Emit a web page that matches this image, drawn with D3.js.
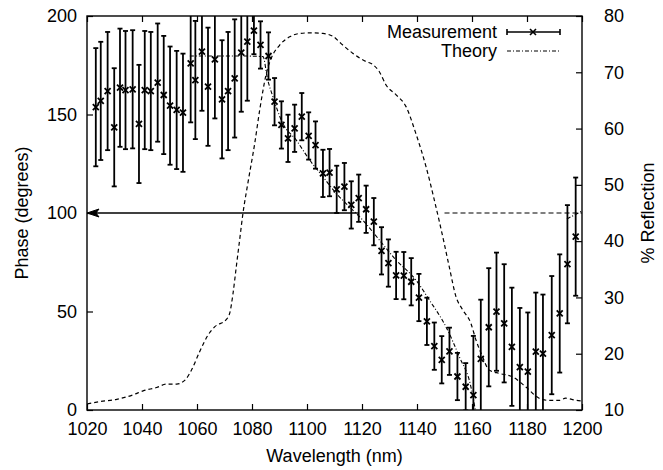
<!DOCTYPE html>
<html>
<head>
<meta charset="utf-8">
<script src="https://d3js.org/d3.v7.min.js"></script>
<style>
  body { margin:0; background:#fff; }
  svg text { font-family:"Liberation Sans", Arial, Helvetica, sans-serif; font-size:18px; fill:#000; }
</style>
</head>
<body>
<svg id="chart" width="663" height="470"></svg>
<script>
// measured phase (degrees) with error bars
var measWl = [1023.2,1025.0,1027.5,1029.9,1032.0,1034.0,1036.6,1038.9,1041.0,1043.2,1045.7,1047.9,1050.2,1052.6,1054.9,1057.7,1059.4,1061.8,1064.0,1066.5,1069.1,1071.3,1073.7,1076.1,1078.3,
	1080.7,1083.1,1086.0,1088.2,1090.7,1093.1,1095.5,1098.1,1100.6,1103.1,1105.8,1108.2,1110.8,1113.6,1116.1,1118.8,1121.5,1124.3,1127.1,1129.6,1132.4,1135.2,1137.9,1140.7,1143.6,1146.3,1149.0,1151.8,1154.7,1157.7,
	1160.5,1163.2,1166.1,1168.9,1171.7,1174.5,1177.4,1180.3,1183.2,1185.8,1189.0,1191.9,1194.7,1197.7];
var measPhase = [153.7,156.9,161.9,143.5,163.6,162.4,162.8,145.2,162.4,161.9,166.2,159.9,154.5,152.3,150.9,176.0,167.5,181.9,164.1,178.0,157.7,161.9,168.3,181.4,187.0,
	192.6,185.3,179.7,156.5,144.7,137.9,143.0,148.9,139.1,134.5,120.1,120.5,112.0,113.4,104.1,107.5,101.9,95.6,80.8,74.6,68.3,68.2,65.1,57.1,45.0,32.4,25.5,29.8,17.0,11.8,
	7.6,26.0,42.0,49.9,44.0,32.1,21.8,19.5,29.6,28.6,38.0,49.0,74.0,88.0];
var measErr = [30,30,30,30,30,30,30,30,30,30,30,30,30,30,30,30,30,30,30,30,30,30,30,30,30,
	12,12,12,12,12,12,12,12,12,12,12,12,12,12,12,12,12,12,12,12,12,12,12,12,12,12,12,12,12,12,
	30,30,30,30,30,30,30,30,30,30,30,30,30,30];

// theory phase (dash-dot)
var theoryWl    = [1057.4,1075.5,1084.0,1085.6,1087.6,1091.2,1096.1,1100.9,1105.8,1110.6,1115.4,1120.3,1126.3,1132.4,1139.6,1144.5,1150.5,1155.4,1159.6,1161.2];
var theoryPhase = [179.7,179.7,179.4,168.3,159.0,145.5,137.0,127.0,118.4,110.0,103.2,96.4,86.3,76.1,66.0,55.8,42.3,27.0,11.8,0];
var theoryTailWl = [1194.5,1200];
var theoryTailPhase = [97,101];

// reflection spectrum (right axis, %)
var reflWl  = [1020.1,1024.7,1030.8,1036.8,1040.4,1045.3,1048.9,1052.6,1055.6,1058.0,1061.0,1064.0,1066.5,1070.7,1071.9,1073.1,1074.3,1075.5,1076.7,1078.5,1081.0,1082.8,1084.0,1085.2,1087.0,1090.0,1093.7,1097.3,1100.9,1105.8,
	1109.4,1112.4,1116.6,1121.5,1123.9,1126.3,1128.8,1132.4,1136.0,1139.6,1143.3,1146.3,1149.9,1151.7,1154.2,1156.6,1159.6,1161.4,1163.8,1166.2,1169.9,1174.7,1179.6,1184.4,1188.0,1191.6,1194.1,1197.1,1200];
var reflPct = [11.1,11.5,11.9,12.7,13.4,14.0,14.6,14.6,15.3,17.1,20.4,23.3,24.8,26.1,27.2,30.7,35.5,40.2,44.9,50.3,57.4,63.3,66.8,69.8,72.5,74.8,76.3,76.9,77.0,76.9,
	76.4,75.1,73.4,71.9,71.4,70.1,67.7,66.0,63.9,59.1,53.2,47.3,39.6,35.5,30.1,27.8,25.4,22.5,19.5,17.1,16.5,15.9,14.1,12.1,11.7,11.7,12.1,11.8,11.6];

// annotation lines
var arrowWl = [1118.5,1020], arrowPhase = 100;
var guideWl = [1150,1200], guideRefl = 45;

var xTicks = [1020,1040,1060,1080,1100,1120,1140,1160,1180,1200];
var yTicks = [0,50,100,150,200];
var y2Ticks = [10,20,30,40,50,60,70,80];

var L = 87, R = 582, T = 16, B = 410;
var svg = d3.select('#chart');
var x = d3.scaleLinear().domain([1020,1200]).range([L,R]);
var y = d3.scaleLinear().domain([0,200]).range([B,T]);
var y2 = d3.scaleLinear().domain([10,80]).range([B,T]);

svg.append('clipPath').attr('id','plotclip')
	.append('rect').attr('x',L).attr('y',T).attr('width',R-L).attr('height',B-T);

function axisStyle(g) {
	g.select('.domain').remove();
	g.selectAll('line').attr('stroke','#000').attr('stroke-width',1.2);
	g.selectAll('text').attr('font-size',null).attr('font-family',null);
}

svg.append('g').attr('transform','translate(0,'+B+')')
	.call(d3.axisBottom(x).tickValues(xTicks).tickSize(-6).tickPadding(12).tickFormat(d3.format('d')))
	.call(axisStyle);
svg.append('g').attr('transform','translate(0,'+T+')')
	.call(d3.axisTop(x).tickValues(xTicks).tickSize(-6).tickFormat(''))
	.call(axisStyle);
svg.append('g').attr('transform','translate('+L+',0)')
	.call(d3.axisLeft(y).tickValues(yTicks).tickSize(-6).tickPadding(10))
	.call(axisStyle);
svg.append('g').attr('transform','translate('+R+',0)')
	.call(d3.axisRight(y2).tickValues(y2Ticks).tickSize(-6).tickPadding(22))
	.call(axisStyle);

svg.append('rect').attr('x',L).attr('y',T).attr('width',R-L).attr('height',B-T)
	.attr('fill','none').attr('stroke','#000').attr('stroke-width',1.4);

var plot = svg.append('g').attr('clip-path','url(#plotclip)');

// reflection curve
var reflLine = d3.line().curve(d3.curveMonotoneX)
	.x(function(d,i) { return x(reflWl[i]); })
	.y(function(d,i) { return y2(reflPct[i]); });
plot.append('path').datum(reflWl).attr('d',reflLine)
	.attr('fill','none').attr('stroke','#000').attr('stroke-width',1.2).attr('stroke-dasharray','4,3');

// theory phase
var thLine = d3.line()
	.x(function(d) { return x(d[0]); })
	.y(function(d) { return y(d[1]); });
var thData = theoryWl.map(function(w,i) { return [w, theoryPhase[i]]; });
var tailData = theoryTailWl.map(function(w,i) { return [w, theoryTailPhase[i]]; });
[thData, tailData].forEach(function(dd) {
	plot.append('path').datum(dd).attr('d',thLine.curve(d3.curveMonotoneX))
		.attr('fill','none').attr('stroke','#000').attr('stroke-width',1.1).attr('stroke-dasharray','4,2,1,2');
});

// annotation: arrow to phase axis and guide at 45%
plot.append('line').attr('x1',x(arrowWl[0])).attr('x2',x(arrowWl[1])+4)
	.attr('y1',y(arrowPhase)).attr('y2',y(arrowPhase))
	.attr('stroke','#000').attr('stroke-width',1.6);
var ax = x(arrowWl[1]), ay = y(arrowPhase);
svg.append('path').attr('d','M'+ax+','+ay+' L'+(ax+12)+','+(ay-4)+' L'+(ax+9)+','+ay+' L'+(ax+12)+','+(ay+4)+' Z')
	.attr('fill','#000').attr('stroke','#000').attr('stroke-width',1);
plot.append('line').attr('x1',x(guideWl[0])).attr('x2',x(guideWl[1]))
	.attr('y1',y2(guideRefl)).attr('y2',y2(guideRefl))
	.attr('stroke','#000').attr('stroke-width',1.1).attr('stroke-dasharray','5,3');

// measurement error bars + markers
function drawErr(g, px, py, ylo, yhi, cw) {
	g.append('line').attr('x1',px).attr('x2',px).attr('y1',ylo).attr('y2',yhi);
	g.append('line').attr('x1',px-cw).attr('x2',px+cw).attr('y1',ylo).attr('y2',ylo);
	g.append('line').attr('x1',px-cw).attr('x2',px+cw).attr('y1',yhi).attr('y2',yhi);
	g.append('path').attr('d','M'+(px-3)+','+(py-3)+'L'+(px+3)+','+(py+3)+'M'+(px-3)+','+(py+3)+'L'+(px+3)+','+(py-3));
}
var meas = plot.append('g').attr('stroke','#000').attr('stroke-width',1.8).attr('fill','none');
measWl.forEach(function(w,i) {
	drawErr(meas, x(w), y(measPhase[i]), y(measPhase[i]-measErr[i]), y(measPhase[i]+measErr[i]), 2.5);
});

// legend
var lg = svg.append('g');
lg.append('text').attr('x',497).attr('y',38).attr('text-anchor','end').text('Measurement');
lg.append('text').attr('x',497).attr('y',57).attr('text-anchor','end').text('Theory');
var lm = lg.append('g').attr('stroke','#000').attr('stroke-width',1.6).attr('fill','none');
lm.append('line').attr('x1',507).attr('x2',560).attr('y1',32).attr('y2',32);
lm.append('line').attr('x1',507).attr('x2',507).attr('y1',29).attr('y2',35);
lm.append('line').attr('x1',560).attr('x2',560).attr('y1',29).attr('y2',35);
lm.append('path').attr('d','M530,29L536,35M530,35L536,29');
lg.append('line').attr('x1',507).attr('x2',560).attr('y1',51).attr('y2',51)
	.attr('stroke','#000').attr('stroke-width',1.1).attr('stroke-dasharray','4,2,1,2');

// axis titles
svg.append('text').attr('x',(L+R)/2).attr('y',462).attr('text-anchor','middle').text('Wavelength (nm)');
svg.append('text').attr('transform','translate(28,'+((T+B)/2)+') rotate(-90)').attr('text-anchor','middle').text('Phase (degrees)');
svg.append('text').attr('transform','translate(654,'+((T+B)/2)+') rotate(-90)').attr('text-anchor','middle').text('% Reflection');
</script>
</body>
</html>
